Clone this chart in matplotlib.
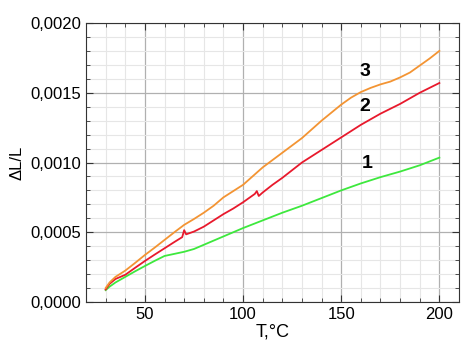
import numpy as np
import matplotlib
matplotlib.use('Agg')
import matplotlib.pyplot as plt
from matplotlib.ticker import MultipleLocator, FuncFormatter

plt.rcParams['font.family'] = ['Liberation Sans', 'DejaVu Sans']

# curve 1 (green)
t1 = [30, 32, 35, 40, 45, 50, 55, 60, 65, 70, 75, 80, 85, 90, 100,
      110, 120, 130, 140, 150, 160, 170, 180, 190, 200]
dl1 = [0.085, 0.11, 0.14, 0.18, 0.22, 0.258, 0.295, 0.33, 0.345, 0.36, 0.38,
       0.41, 0.44, 0.47, 0.53, 0.585, 0.64, 0.69, 0.745, 0.80, 0.85, 0.895,
       0.935, 0.98, 1.035]

# curve 2 (red)
t2 = [30, 32, 35, 40, 45, 50, 55, 60, 65, 69, 70, 71, 75, 80, 85, 90, 95,
      100, 105, 106, 107, 108, 110, 115, 120, 130, 140, 150, 160, 170, 180,
      190, 200]
dl2 = [0.09, 0.13, 0.165, 0.195, 0.245, 0.294, 0.34, 0.385, 0.43, 0.465,
       0.515, 0.485, 0.505, 0.54, 0.585, 0.63, 0.67, 0.715, 0.765, 0.775,
       0.795, 0.76, 0.785, 0.84, 0.89, 1.0, 1.09, 1.18, 1.27, 1.35, 1.42,
       1.50, 1.57]

# curve 3 (orange)
t3 = [30, 32, 35, 40, 45, 50, 55, 60, 65, 70, 75, 80, 85, 90, 100, 110,
      120, 130, 140, 150, 155, 160, 165, 170, 175, 180, 185, 190, 195, 200]
dl3 = [0.10, 0.14, 0.18, 0.225, 0.28, 0.337, 0.39, 0.445, 0.50, 0.553,
       0.595, 0.64, 0.69, 0.75, 0.84, 0.965, 1.07, 1.175, 1.30, 1.415, 1.465,
       1.505, 1.535, 1.56, 1.58, 1.61, 1.645, 1.695, 1.745, 1.80]

labels = ['1', '2', '3']
label_pos = [(163, 0.00099), (162, 0.00140), (162, 0.00165)]

fig = plt.figure(figsize=(4.76, 3.55), dpi=100)
ax = fig.add_axes([0.1807, 0.1493, 0.7836, 0.7859])

ax.plot(t1, np.array(dl1) * 1e-3, color='#3de83d', lw=1.3)
ax.plot(t2, np.array(dl2) * 1e-3, color='#e8192c', lw=1.3)
ax.plot(t3, np.array(dl3) * 1e-3, color='#f39433', lw=1.3)

for lab, (x, y) in zip(labels, label_pos):
    ax.text(x, y, lab, fontsize=14, fontweight='bold', ha='center', va='center')

ax.set_xlim(20, 210)
ax.set_ylim(0, 0.002)
ax.xaxis.set_major_locator(MultipleLocator(50))
ax.xaxis.set_minor_locator(MultipleLocator(10))
ax.yaxis.set_major_locator(MultipleLocator(0.0005))
ax.yaxis.set_minor_locator(MultipleLocator(0.0001))
ax.yaxis.set_major_formatter(FuncFormatter(lambda v, p: ('%.4f' % v).replace('.', ',')))

ax.grid(True, which='major', color='#b0b0b0', lw=0.9)
ax.grid(True, which='minor', color='#e6e6e6', lw=0.8)
ax.set_axisbelow(True)

ax.tick_params(which='both', direction='in', top=True, right=True,
               labelsize=12, color='#333333')
ax.tick_params(which='major', length=5)
ax.tick_params(which='minor', length=3)
for s in ax.spines.values():
    s.set_color('#333333')

ax.set_xlabel('T,°C', fontsize=13, labelpad=1)
ax.set_ylabel('ΔL/L', fontsize=12, labelpad=4)

plt.savefig('out.png', dpi=100)
